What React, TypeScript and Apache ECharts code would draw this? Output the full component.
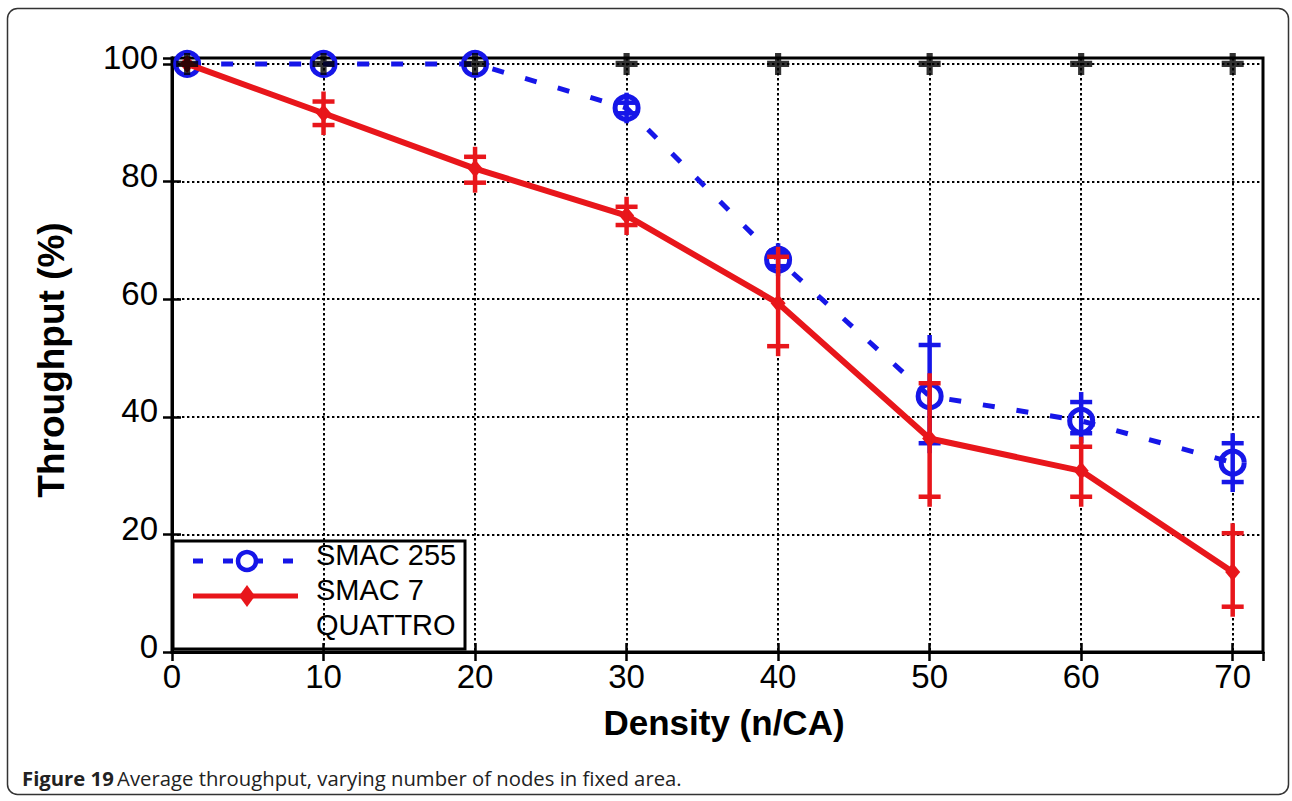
import React, { useEffect, useRef } from "react";
import * as echarts from "echarts";

const densities = [1, 10, 20, 30, 40, 50, 60, 70];
const smac255 = [100, 100, 100, 92.5, 66.7, 43.5, 39.3, 32.2];
const smac7 = [100, 91.6, 82.2, 74.2, 59.3, 36.3, 30.8, 13.6];
const quattro = [100, 100, 100, 100, 100, 100, 100, 100];

// error bars: [density, low, high]
const smac255ErrX = [30, 40, 50, 60, 70];
const smac255ErrLow = [91.6, 65.6, 35.5, 37.2, 28.9];
const smac255ErrHigh = [93.4, 67.8, 52.2, 42.5, 35.5];
const smac7ErrX = [10, 20, 30, 40, 50, 60, 70];
const smac7ErrLow = [89.6, 79.8, 72.6, 52.0, 26.4, 26.4, 7.7];
const smac7ErrHigh = [93.6, 84.2, 75.7, 67.2, 45.7, 34.9, 20.2];

const xTicks = { min: 0, max: 72, interval: 10 };
const yTicks = { min: 0, max: 101, interval: 20 };

const BLUE = "#1616e8";
const RED = "#e8161b";
const FONT = "'Liberation Sans', Arial, sans-serif";

function pairs(xs: number[], ys: number[]) {
  return xs.map((x, i) => [x, ys[i]]);
}
function triples(xs: number[], lo: number[], hi: number[]) {
  return xs.map((x, i) => [x, lo[i], hi[i]]);
}

function errorBarRender(color: string) {
  return (params: any, api: any) => {
    const x = api.value(0);
    const lo = api.coord([x, api.value(1)]);
    const hi = api.coord([x, api.value(2)]);
    const half = 11;
    const style = { stroke: color, lineWidth: 4.5, fill: "none" };
    return {
      type: "group",
      children: [
        { type: "line", shape: { x1: lo[0], y1: lo[1] + 10, x2: hi[0], y2: hi[1] - 10 }, style },
        { type: "line", shape: { x1: lo[0] - half, y1: lo[1], x2: lo[0] + half, y2: lo[1] }, style },
        { type: "line", shape: { x1: hi[0] - half, y1: hi[1], x2: hi[0] + half, y2: hi[1] }, style },
      ],
    };
  };
}

const PLUS =
  "path://M3.6,0L6.4,0L6.4,3.6L10,3.6L10,6.4L6.4,6.4L6.4,10L3.6,10L3.6,6.4L0,6.4L0,3.6L3.6,3.6Z";

export default function App() {
  const ref = useRef<HTMLDivElement>(null);
  useEffect(() => {
    if (!ref.current) return;
    const chart = echarts.init(ref.current, null, { renderer: "svg" });
    const dotted = { color: "#000", width: 2, type: [2.4, 2.6] as any };
    const tickStyle = { color: "#000", width: 2.5 };
    const labelStyle = { color: "#000", fontSize: 33, fontFamily: FONT };
    chart.setOption({
      animation: false,
      backgroundColor: "#fff",
      grid: {
        left: 172,
        top: 58,
        width: 1091,
        height: 594,
        show: true,
        borderColor: "#000",
        borderWidth: 3,
        backgroundColor: "transparent",
        containLabel: false,
      },
      xAxis: [
        {
          type: "value",
          ...xTicks,
          position: "bottom",
          axisLine: { show: true, lineStyle: { color: "#000", width: 3 } },
          axisTick: { show: true, inside: true, length: 9, lineStyle: tickStyle },
          axisLabel: { ...labelStyle, margin: 8, showMaxLabel: false },
          splitLine: { show: true, lineStyle: dotted },
        },
        {
          type: "value",
          ...xTicks,
          position: "top",
          axisLine: { show: true, lineStyle: { color: "#000", width: 3 } },
          axisTick: { show: true, inside: true, length: 9, lineStyle: tickStyle },
          axisLabel: { show: false },
          splitLine: { show: false },
        },
      ],
      yAxis: [
        {
          type: "value",
          ...yTicks,
          position: "left",
          axisLine: { show: true, lineStyle: { color: "#000", width: 3 } },
          axisTick: { show: true, inside: true, length: 9, lineStyle: tickStyle },
          axisLabel: {
            ...labelStyle,
            margin: 14,
            showMaxLabel: false,
            verticalAlign: "bottom",
            lineHeight: 12,
          },
          splitLine: { show: true, lineStyle: dotted },
        },
        {
          type: "value",
          ...yTicks,
          position: "right",
          axisLine: { show: true, lineStyle: { color: "#000", width: 3 } },
          axisTick: { show: true, inside: true, length: 9, lineStyle: tickStyle },
          axisLabel: { show: false },
          splitLine: { show: false },
        },
      ],
      series: [
        {
          name: "SMAC 255",
          type: "line",
          data: pairs(densities, smac255),
          z: 2,
          lineStyle: { color: BLUE, width: 5, type: [12, 22] as any },
          symbol: "circle",
          symbolSize: 23,
          itemStyle: { color: "rgba(0,0,0,0)", borderColor: BLUE, borderWidth: 5 },
        },
        {
          name: "SMAC 255 err",
          type: "custom",
          z: 3,
          data: triples(smac255ErrX, smac255ErrLow, smac255ErrHigh),
          encode: { x: 0, y: [1, 2] },
          renderItem: errorBarRender(BLUE),
        },
        {
          name: "SMAC 7",
          type: "line",
          data: pairs(densities, smac7),
          z: 4,
          lineStyle: { color: RED, width: 6 },
          symbol: "diamond",
          symbolSize: [15, 18],
          itemStyle: { color: RED },
        },
        {
          name: "SMAC 7 err",
          type: "custom",
          z: 5,
          data: triples(smac7ErrX, smac7ErrLow, smac7ErrHigh),
          encode: { x: 0, y: [1, 2] },
          renderItem: errorBarRender(RED),
        },
        {
          name: "QUATTRO",
          type: "scatter",
          data: pairs(densities, quattro),
          z: 6,
          symbol: PLUS,
          symbolSize: 22,
          itemStyle: { color: "#000" },
        },
      ],
      graphic: [
        {
          type: "rect",
          shape: { x: 7.5, y: 8.5, width: 1281, height: 786, r: 10 },
          style: { fill: "none", stroke: "#333", lineWidth: 1.5 },
          z: 0,
        },
        {
          type: "text",
          x: 51,
          y: 360,
          rotation: Math.PI / 2,
          style: {
            text: "Throughput (%)",
            font: `bold 37px ${FONT}`,
            fill: "#000",
            align: "center",
            verticalAlign: "middle",
          },
        },
        {
          type: "text",
          x: 724,
          y: 722,
          style: {
            text: "Density (n/CA)",
            font: `bold 35px ${FONT}`,
            fill: "#000",
            align: "center",
            verticalAlign: "middle",
          },
        },
        {
          type: "text",
          x: 22,
          y: 778,
          style: {
            text: "{b|Figure 19} {r|Average throughput, varying number of nodes in fixed area.}",
            verticalAlign: "middle",
            rich: {
              b: { font: "bold 20.3px 'Open Sans', sans-serif", fill: "#222" },
              r: { font: "20.3px 'Open Sans', sans-serif", fill: "#222" },
            },
          },
        },
        {
          type: "group",
          z: 100,
          children: [
            {
              type: "rect",
              shape: { x: 173, y: 541, width: 292, height: 108 },
              style: { fill: "#fff", stroke: "#000", lineWidth: 3 },
            },
            {
              type: "line",
              shape: { x1: 193, y1: 561, x2: 298, y2: 561 },
              style: { stroke: BLUE, lineWidth: 5, lineDash: [10, 20] },
            },
            {
              type: "circle",
              shape: { cx: 247, cy: 561, r: 9 },
              style: { fill: "#fff", stroke: BLUE, lineWidth: 4.5 },
            },
            {
              type: "line",
              shape: { x1: 193, y1: 596, x2: 298, y2: 596 },
              style: { stroke: RED, lineWidth: 5 },
            },
            {
              type: "polygon",
              shape: { points: [[247, 585], [255, 596], [247, 607], [239, 596]] },
              style: { fill: RED },
            },
            {
              type: "text",
              x: 316,
              y: 555,
              style: { text: "SMAC 255", font: `29px ${FONT}`, fill: "#000", verticalAlign: "middle" },
            },
            {
              type: "text",
              x: 316,
              y: 590,
              style: { text: "SMAC 7", font: `29px ${FONT}`, fill: "#000", verticalAlign: "middle" },
            },
            {
              type: "text",
              x: 316,
              y: 625,
              style: { text: "QUATTRO", font: `29px ${FONT}`, fill: "#000", verticalAlign: "middle" },
            },
          ],
        },
      ],
    });
    return () => chart.dispose();
  }, []);
  return (
    <div
      ref={ref}
      style={{ position: "absolute", left: 0, top: 0, width: 1292, height: 801, background: "#fff" }}
    />
  );
}
